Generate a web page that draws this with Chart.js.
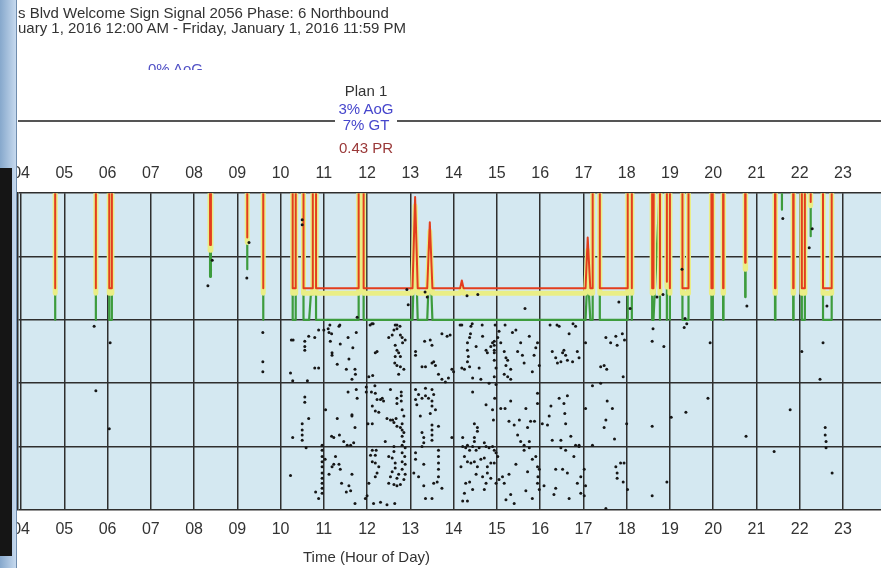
<!DOCTYPE html>
<html>
<head>
<meta charset="utf-8">
<script src="https://cdn.jsdelivr.net/npm/chart.js@4.4.1/dist/chart.umd.min.js"></script>
<style>
  html, body { margin: 0; padding: 0; background: #fff; }
  body { width: 881px; height: 568px; position: relative; overflow: hidden; font-family: "Liberation Sans", Arial, sans-serif; }
  #chartBox { position: absolute; left: 0; top: 0; width: 881px; height: 568px; }
  .txt { position: absolute; white-space: nowrap; font-size: 15px; line-height: 16px; color: #333; }
  .mid { transform: translateX(-50%); }
  #planLine { position: absolute; left: 18px; top: 120px; width: 863px; height: 2px; background: #555; }
  #planBox { position: absolute; left: 335px; top: 104px; width: 62px; height: 30px; background: #fff; }
  #aogClip { position: absolute; left: 148px; top: 61px; width: 70px; height: 9px; overflow: hidden; }
  #frameA { position: absolute; left: 0; top: 0; width: 17px; height: 568px; background: linear-gradient(to right, #86a8cc, #c6d9ee); border-right: 1px solid #6f8cad; box-sizing: border-box; }
  #frameB { position: absolute; left: 0; top: 168px; width: 12px; height: 388px; background: #151515; }
</style>
</head>
<body>
<div id="chartBox"><canvas id="pcd" width="881" height="568"></canvas></div>

<div class="txt" style="left:18px;top:5px">s Blvd Welcome Sign Signal 2056 Phase: 6 Northbound</div>
<div class="txt" style="left:18px;top:20px">uary 1, 2016 12:00 AM - Friday, January 1, 2016 11:59 PM</div>
<div id="aogClip"><div class="txt" style="left:0;top:0;color:#5252c6">0% AoG</div></div>

<div id="planLine"></div>
<div id="planBox"></div>
<div class="txt mid" style="left:366px;top:83px">Plan 1</div>
<div class="txt mid" style="left:366px;top:101px;color:#4646cc">3% AoG</div>
<div class="txt mid" style="left:366px;top:117px;color:#4646cc">7% GT</div>
<div class="txt mid" style="left:366px;top:140px;color:#9a3838">0.43 PR</div>

<div class="txt" style="left:303px;top:549px">Time (Hour of Day)</div>

<div id="frameA"></div>
<div id="frameB"></div>

<script>
// cycle values above the top of the plot (250 s) are drawn off-chart
const ABOVE = 2000;

const hourTicks = [4, 5, 6, 7, 8, 9, 10, 11, 12, 13, 14, 15, 16, 17, 18, 19, 20, 21, 22, 23];

const cycleHours = [
  3.90, 4.77, 4.79, 4.81, 5.71, 5.73, 5.75, 6.03, 6.04, 6.10, 6.11,
  8.35, 8.37, 8.39, 9.21, 9.23, 9.25, 9.58, 9.60, 9.62,
  10.27, 10.28, 10.35, 10.36, 10.52, 10.53, 10.66, 10.70, 10.74, 10.745, 10.815, 10.82,
  11.80, 11.805, 11.915, 11.92, 13.05, 13.11, 13.17, 13.39, 13.45, 13.51,
  14.15, 14.19, 14.23, 17.05, 17.10, 17.16, 17.21, 17.215, 17.375, 17.38,
  18.02, 18.025, 18.11, 18.12, 18.13, 18.58, 18.59, 18.62, 18.76, 18.77, 18.78,
  18.92, 18.93, 18.95, 18.99, 19.00, 19.01, 19.28, 19.29, 19.42, 19.43,
  19.95, 19.96, 19.99, 20.00, 20.22, 20.23, 20.24, 20.73, 20.74, 20.75,
  21.42, 21.43, 21.44, 21.58, 21.59, 21.60, 21.84, 21.85, 21.86,
  22.04, 22.05, 22.11, 22.12, 22.24, 22.25, 22.26, 22.53, 22.54, 22.74, 22.75, 24.00
];

const redSeconds = [
  ABOVE, ABOVE, 175, ABOVE, ABOVE, 175, ABOVE, ABOVE, 175, 175, ABOVE,
  ABOVE, 209, ABOVE, ABOVE, 215, ABOVE, ABOVE, 175, ABOVE,
  ABOVE, 175, 175, ABOVE, ABOVE, 175, 175, 175, 175, ABOVE, ABOVE, 175,
  175, ABOVE, ABOVE, 175, 175, 247, 175, 175, 227, 175,
  175, 181, 175, 175, 215, 175, 175, ABOVE, ABOVE, 175,
  175, ABOVE, ABOVE, 175, ABOVE, ABOVE, 175, 175, ABOVE, 175, ABOVE,
  ABOVE, 180, ABOVE, ABOVE, 175, ABOVE, ABOVE, 175, 175, ABOVE,
  ABOVE, 175, 175, ABOVE, ABOVE, 175, ABOVE, ABOVE, 195, ABOVE,
  ABOVE, 175, ABOVE, ABOVE, ABOVE, ABOVE, ABOVE, 175, ABOVE,
  ABOVE, 175, 175, ABOVE, ABOVE, 243, ABOVE, ABOVE, 175, 175, ABOVE, ABOVE
];

const yellowSeconds = [
  ABOVE, ABOVE, 171, ABOVE, ABOVE, 171, ABOVE, ABOVE, 171, 171, ABOVE,
  ABOVE, 205, ABOVE, ABOVE, 211, ABOVE, ABOVE, 171, ABOVE,
  ABOVE, 171, 171, ABOVE, ABOVE, 171, 171, 171, 171, ABOVE, ABOVE, 171,
  171, ABOVE, ABOVE, 171, 171, 240, 171, 171, 220, 171,
  171, 175, 171, 171, 205, 171, 171, ABOVE, ABOVE, 171,
  171, ABOVE, ABOVE, 171, ABOVE, ABOVE, 171, 171, ABOVE, 171, ABOVE,
  ABOVE, 176, ABOVE, ABOVE, 171, ABOVE, ABOVE, 171, 171, ABOVE,
  ABOVE, 171, 171, ABOVE, ABOVE, 171, ABOVE, ABOVE, 190, ABOVE,
  ABOVE, 171, ABOVE, ABOVE, ABOVE, ABOVE, ABOVE, 171, ABOVE,
  ABOVE, 171, 171, ABOVE, ABOVE, 240, ABOVE, ABOVE, 171, 171, ABOVE, ABOVE
];

const greenSeconds = [
  ABOVE, ABOVE, 150, ABOVE, ABOVE, 150, ABOVE, ABOVE, 150, 150, ABOVE,
  ABOVE, 184, ABOVE, ABOVE, 190, ABOVE, ABOVE, 150, ABOVE,
  ABOVE, 150, 150, ABOVE, ABOVE, 150, 150, 170, 170, ABOVE, ABOVE, 150,
  150, ABOVE, ABOVE, 150, 150, 225, 150, 150, 205, 150,
  150, 150, 150, 150, 189, 150, 150, ABOVE, ABOVE, 150,
  150, ABOVE, ABOVE, 150, ABOVE, ABOVE, 150, 150, 250, 150, ABOVE,
  ABOVE, 150, ABOVE, ABOVE, 150, ABOVE, ABOVE, 150, 150, ABOVE,
  ABOVE, 150, 150, ABOVE, ABOVE, 150, ABOVE, ABOVE, 168, ABOVE,
  ABOVE, 150, ABOVE, ABOVE, 237, ABOVE, ABOVE, 150, ABOVE,
  ABOVE, 150, 150, ABOVE, ABOVE, 216, ABOVE, ABOVE, 150, 150, ABOVE, ABOVE
];

// detector arrivals: [hour of day, seconds into cycle]
const arrivalsBefore10 = [
  [5.69,145],[5.73,94],[6.06,132],[6.04,64],[8.32,177],[8.42,197],[9.22,183],[9.27,211],
  [9.59,140],[9.59,117],[9.59,109]
];

const arrivals10 = [
  [10.29,134],[10.50,229],[10.50,225],[10.25,134],[10.56,133],[10.56,129],[10.56,126],[10.65,137],
  [10.79,136],[10.88,142],[10.23,108],[10.28,102],[10.62,102],[10.79,112],[10.88,112],[10.56,89],
  [10.56,85],[10.65,72],[10.50,68],[10.50,63],[10.50,59],[10.50,55],[10.28,57],[10.59,49],
  [10.23,27],[10.81,14],[10.88,9],[10.96,51],[10.96,47],[10.96,42],[10.96,38],[10.96,34],
  [10.96,29],[10.96,25],[10.96,21],[10.96,17],[10.96,13]
];

const arrivals11 = [
  [11.14,146],[11.37,146],[11.77,152],[11.00,142],[11.10,143],[11.12,140],[11.15,133],[11.18,139],
  [11.35,145],[11.38,131],[11.56,136],[11.67,128],[11.75,140],[11.19,124],[11.19,122],[11.31,115],
  [11.58,119],[11.52,111],[11.72,111],[11.73,107],[11.65,103],[11.75,95],[11.56,93],[11.77,88],
  [11.65,75],[11.65,74],[11.31,72],[11.36,59],[11.18,58],[11.23,57],[11.04,79],[11.72,65],
  [11.46,54],[11.54,51],[11.62,51],[11.69,53],[11.27,42],[11.19,34],[11.35,36],[11.12,28],
  [11.38,32],[11.65,28],[11.41,21],[11.58,19],[11.62,15],[11.52,14],[11.72,5],[11.03,40],
  [11.23,36],[11.98,97],[11.98,93],[12.00,11],[11.96,9]
];

const arrivals12 = [
  [12.07,146],[12.11,147],[12.14,147],[12.69,146],[12.76,145],[12.92,174],[12.95,162],
  [12.19,124],[12.23,125],[12.04,105],[12.13,106],[12.18,98],[12.10,93],[12.19,92],[12.23,87],
  [12.31,87],[12.35,88],[12.38,86],[12.12,82],[12.19,78],[12.27,77],[12.46,72],[12.54,71],
  [12.59,71],[12.62,69],[12.67,72],[12.69,66],[12.77,65],[12.81,63],[12.85,61],[12.42,54],
  [12.50,136],[12.58,138],[12.62,142],[12.65,146],[12.69,143],[12.77,138],[12.81,136],[12.82,132],
  [12.88,134],[12.65,130],[12.69,126],[12.73,124],[12.65,121],[12.77,121],[12.64,116],[12.69,114],
  [12.77,113],[12.85,111],[12.73,107],[12.79,93],[12.79,90],[12.79,86],[12.69,88],[12.69,84],
  [12.54,95],[12.81,79],[12.85,74],[12.81,68],[12.81,58],[12.85,54],[12.81,51],[12.88,49],
  [12.81,45],[12.87,42],[12.81,38],[12.88,36],[12.81,32],[12.88,28],[12.85,24],[12.77,20],
  [12.12,47],[12.21,47],[12.08,43],[12.19,43],[12.12,38],[12.19,37],[12.27,34],[12.23,29],
  [12.19,26],[12.50,42],[12.62,50],[12.62,46],[12.58,41],[12.65,37],[12.65,33],[12.58,30],
  [12.54,26],[12.50,21],[12.62,20],[12.69,19],[12.69,25],[12.73,28],[12.04,21],[12.15,5],
  [12.31,6],[12.46,4],[12.64,5],[12.12,68],[12.02,68]
];

const arrivals13 = [
  [13.34,172],[13.39,168],[13.12,125],[13.12,122],[13.33,133],[13.46,134],[13.50,130],[13.73,139],
  [13.85,137],[13.92,138],[13.27,113],[13.35,113],[13.50,116],[13.54,117],[13.58,114],[13.65,107],
  [13.73,103],[13.81,101],[13.88,104],[13.35,96],[13.12,95],[13.19,91],[13.27,88],[13.35,90],
  [13.42,88],[13.12,87],[13.15,83],[13.23,74],[13.50,95],[13.54,91],[13.50,86],[13.50,82],
  [13.58,79],[13.46,76],[13.65,66],[13.50,67],[13.50,63],[13.50,59],[13.50,55],[13.27,61],
  [13.31,57],[13.31,53],[13.27,50],[13.31,36],[13.12,45],[13.12,40],[13.08,29],[13.54,21],
  [13.62,22],[13.65,47],[13.65,42],[13.65,37],[13.65,32],[13.65,26],[13.73,17],[13.35,9],
  [13.50,9],[13.19,26],[13.31,19],[13.96,57],[13.96,111],[14.00,109]
];

const arrivals14 = [
  [14.15,146],[14.19,146],[14.43,147],[14.66,146],[14.31,169],[14.56,170],[14.19,112],
  [14.40,145],[14.39,139],[14.37,136],[14.32,132],[14.32,126],[14.34,121],[14.32,117],[14.37,113],
  [14.25,111],[14.52,129],[14.59,112],[14.67,137],[14.75,126],[14.78,124],[14.86,129],[14.90,132],
  [14.94,133],[14.94,130],[14.94,126],[14.94,124],[14.94,118],[14.98,112],[14.94,105],[14.44,104],
  [14.63,103],[14.82,100],[14.44,93],[14.48,68],[14.55,65],[14.55,62],[14.48,57],[14.48,54],
  [14.32,51],[14.21,57],[14.75,83],[14.90,79],[14.92,71],[14.95,88],[14.98,99],[14.21,50],
  [14.28,49],[14.37,47],[14.44,50],[14.52,47],[14.59,49],[14.71,53],[14.75,50],[14.82,49],
  [14.90,50],[14.94,47],[14.98,45],[14.17,34],[14.25,42],[14.32,38],[14.40,37],[14.48,38],
  [14.55,34],[14.63,40],[14.71,41],[14.78,34],[14.86,37],[14.94,37],[14.78,29],[14.67,26],
  [14.86,25],[14.28,21],[14.37,22],[14.44,16],[14.25,13],[14.21,7],[14.75,21],[14.71,16],
  [14.32,7],[14.52,28],[14.98,21]
];

const arrivals15 = [
  [14.96,146],[15.19,146],[15.65,159],[15.05,141],[15.02,136],[15.09,132],[15.17,125],[15.21,120],
  [15.25,118],[15.21,114],[15.17,107],[15.25,105],[15.32,103],[15.36,140],[15.44,142],[15.48,125],
  [15.55,132],[15.59,122],[15.63,116],[15.75,137],[15.82,109],[15.86,122],[15.90,128],[15.94,132],
  [15.98,114],[15.32,111],[15.09,80],[15.19,80],[15.32,86],[15.40,67],[15.28,70],[15.52,71],
  [15.67,80],[15.71,65],[15.78,70],[15.87,70],[15.94,84],[15.94,92],[15.48,59],[15.55,54],
  [15.63,51],[15.75,54],[15.02,42],[15.05,24],[15.13,26],[15.17,21],[15.21,8],[15.28,28],
  [15.32,12],[15.40,5],[15.44,36],[15.63,47],[15.75,49],[15.82,40],[15.90,42],[15.94,34],
  [15.98,32],[15.95,26],[15.94,21],[15.98,16],[15.71,30],[15.67,15],[15.82,9]
];

const arrivals16 = [
  [16.23,146],[16.39,146],[16.76,147],[16.28,125],[16.36,120],[16.44,145],[16.48,117],[16.52,124],
  [16.55,126],[16.59,122],[16.63,118],[16.67,139],[16.75,117],[16.82,145],[16.86,125],[16.90,120],
  [16.40,116],[16.05,68],[16.17,67],[16.21,74],[16.25,82],[16.28,55],[16.44,88],[16.48,55],
  [16.55,84],[16.57,76],[16.63,90],[16.71,58],[16.59,68],[16.82,51],[16.90,51],[16.09,19],
  [16.36,17],[16.36,32],[16.32,12],[16.52,32],[16.63,29],[16.67,9],[16.48,49],[16.59,47],
  [16.78,42],[16.90,50],[16.94,26],[16.86,21],[16.94,13]
];

const arrivals17 = [
  [17.05,132],[17.40,113],[17.48,114],[17.54,111],[17.52,136],[17.63,132],[17.75,137],[17.78,130],
  [17.90,139],[17.95,134],[17.92,105],[17.21,98],[17.82,164],[17.05,80],[17.21,51],[17.52,71],
  [17.48,65],[17.55,86],[17.67,80],[17.72,56],[17.40,100],[17.02,32],[17.05,19],[17.02,11],
  [17.75,34],[17.78,29],[17.78,25],[17.86,37],[17.94,37],[17.52,1],[17.92,22]
];

const arrivalsAfter18 = [
  [18.08,159],[18.70,168],[18.84,170],[19.28,190],[19.35,151],[19.39,147],[19.33,144],[18.61,143],
  [18.59,133],[18.86,129],[19.93,132],[20.78,161],[21.61,230],[22.22,207],[22.29,222],[22.63,161],
  [22.54,132],[22.05,125],[18.59,66],[18.59,11],[18.02,16],[18.00,68],[19.03,73],[19.37,77],
  [19.88,88],[20.76,58],[21.41,46],[21.78,79],[22.47,103],[22.59,65],[22.59,59],[22.61,54],
  [22.61,49],[22.75,29],[18.93,22]
];

const allArrivals = [].concat(arrivalsBefore10, arrivals10, arrivals11, arrivals12, arrivals13,
  arrivals14, arrivals15, arrivals16, arrivals17, arrivalsAfter18);

function toPoints(values) {
  return cycleHours.map((h, i) => ({ x: h, y: values[i] }));
}

const plotBackground = {
  id: 'plotBackground',
  beforeDraw(chart) {
    const { ctx, chartArea: a } = chart;
    ctx.save();
    ctx.fillStyle = '#d4e8f1';
    ctx.fillRect(a.left, a.top, a.right - a.left, a.bottom - a.top);
    ctx.restore();
  }
};

const gridColor = '#2e2e2e';
const tickFont = { family: 'Liberation Sans', size: 16 };
const twoDigits = v => String(Math.round(v)).padStart(2, '0');

const ctx = document.getElementById('pcd').getContext('2d');
new Chart(ctx, {
  type: 'scatter',
  data: {
    datasets: [
      {
        label: 'Arrivals',
        data: allArrivals.map(p => ({ x: p[0], y: p[1] })),
        backgroundColor: '#161616',
        borderWidth: 0,
        pointRadius: 1.5
      },
      {
        label: 'Red',
        data: toPoints(redSeconds),
        showLine: true,
        borderColor: '#e33d1d',
        borderWidth: 2,
        pointRadius: 0,
        borderJoinStyle: 'round'
      },
      {
        label: 'Yellow',
        data: toPoints(yellowSeconds),
        showLine: true,
        borderColor: '#eaee86',
        borderWidth: 5,
        pointRadius: 0,
        borderJoinStyle: 'round'
      },
      {
        label: 'Green',
        data: toPoints(greenSeconds),
        showLine: true,
        borderColor: '#3d9c3d',
        borderWidth: 2.2,
        pointRadius: 0,
        borderJoinStyle: 'round'
      }
    ]
  },
  options: {
    responsive: false,
    animation: false,
    layout: { autoPadding: false, padding: { left: 18, right: 0, top: 154, bottom: 19 } },
    plugins: {
      legend: { display: false },
      tooltip: { enabled: false }
    },
    scales: {
      x: {
        type: 'linear',
        position: 'bottom',
        min: 3.93,
        max: 23.88,
        afterBuildTicks: axis => { axis.ticks = hourTicks.map(v => ({ value: v })); },
        ticks: { font: tickFont, color: '#333', padding: 10, maxRotation: 0, callback: twoDigits },
        grid: { color: gridColor, lineWidth: 1.5, drawTicks: false },
        border: { display: false }
      },
      x2: {
        type: 'linear',
        position: 'top',
        min: 3.93,
        max: 23.88,
        afterBuildTicks: axis => { axis.ticks = hourTicks.map(v => ({ value: v })); },
        ticks: { font: tickFont, color: '#333', padding: 10, maxRotation: 0, callback: twoDigits },
        grid: { display: false, drawTicks: false },
        border: { display: false }
      },
      y: {
        min: 0,
        max: 250,
        ticks: { display: false, stepSize: 50 },
        grid: { color: gridColor, lineWidth: 1.5, drawTicks: false },
        border: { display: true, color: gridColor, width: 1.5 }
      }
    }
  },
  plugins: [plotBackground]
});
</script>
</body>
</html>
